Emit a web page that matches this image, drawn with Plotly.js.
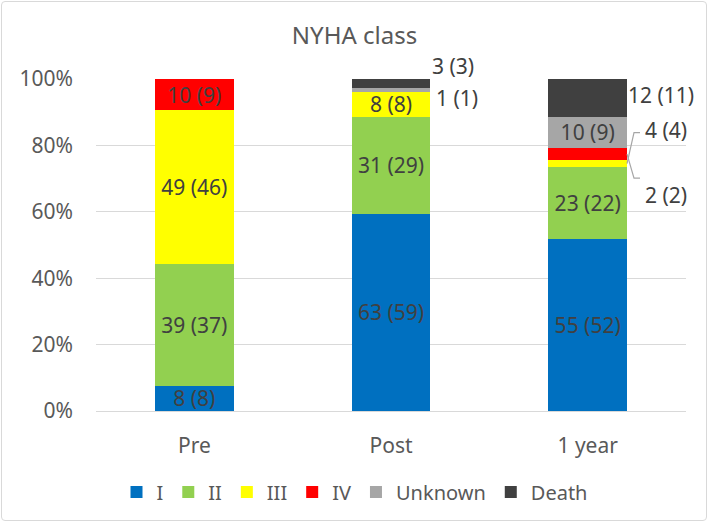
<!DOCTYPE html>
<html>
<head>
<meta charset="utf-8">
<script src="https://cdn.plot.ly/plotly-3.0.1.min.js"></script>
<style>
  html, body { margin: 0; padding: 0; background: #fff; }
  #wrap { position: relative; width: 709px; height: 526px; }
  #chart { position: absolute; left: 0; top: 0; width: 709px; height: 526px; }
  #frame { position: absolute; left: 1px; top: 1px; width: 704px; height: 518px;
           border: 1px solid #D9D9D9; border-radius: 4px; pointer-events: none; }
</style>
</head>
<body>
<div id="wrap"><div id="chart"></div><div id="frame"></div></div>
<script>
// ---- data ----
const categories = ['Pre', 'Post', '1 year'];
const seriesNames = ['I', 'II', 'III', 'IV', 'Unknown', 'Death'];
const classI    = [8, 63, 55];
const classII   = [39, 31, 23];
const classIII  = [49, 8, 2];
const classIV   = [10, 0, 4];
const unknown   = [0, 1, 10];
const death     = [0, 3, 12];
const yTickVals   = [0, 20, 40, 60, 80, 100];
const yTickLabels = ['0%', '20%', '40%', '60%', '80%', '100%'];

// ---- style ----
const colors = ['#0070C0', '#92D050', '#FFFF00', '#FF0000', '#A6A6A6', '#404040'];
const series = [classI, classII, classIII, classIV, unknown, death];
const FONT = '"Noto Sans", "Open Sans", sans-serif';
const labelColor = '#404040';
const axisColor = '#595959';
const LBL = 21;

// labels drawn outside the bars: [series index, category index, xshift, yshift, xanchor, leader]
const outsideLabels = [
  [5, 1, 62, 18, 'center', false],
  [4, 1, 66, -8, 'center', false],
  [5, 2, 73, 3, 'center', false],
  [3, 2, 55, 24, 'left', true],
  [2, 2, 55, -31, 'left', true]
];

const totals = categories.map((_, c) => series.reduce((s, arr) => s + arr[c], 0));
const labelText = (s, c) => series[s][c] + ' (' + Math.round(series[s][c] / totals[c] * 100) + ')';
const isOutside = (s, c) => outsideLabels.some(o => o[0] === s && o[1] === c);

const traces = seriesNames.map((name, s) => ({
  type: 'bar',
  name: name,
  x: categories,
  y: series[s],
  marker: { color: colors[s], line: { width: 0 } },
  text: categories.map((_, c) => (series[s][c] > 0 && !isOutside(s, c)) ? labelText(s, c) : ''),
  textposition: 'inside',
  insidetextanchor: 'middle',
  constraintext: 'none',
  textfont: { family: FONT, size: LBL, color: labelColor },
  hoverinfo: 'name+y'
}));

// cumulative percent mid-point of a segment
function segMid(s, c) {
  let below = 0;
  for (let k = 0; k < s; k++) below += series[k][c];
  return (below + series[s][c] / 2) / totals[c] * 100;
}

const barHalf = 0.2;
const annotations = [];
const shapes = [];
outsideLabels.forEach(([s, c, xs, ys, xa, leader]) => {
  const ym = segMid(s, c);
  annotations.push({
    x: c, y: ym, xref: 'x', yref: 'y',
    text: labelText(s, c), showarrow: false,
    xanchor: xa, yanchor: 'middle', xshift: xs, yshift: ys,
    font: { family: FONT, size: LBL, color: labelColor }
  });
  if (leader) {
    const dy = -ys; // pixel paths run downward
    shapes.push({
      type: 'path', xref: 'x', yref: 'y',
      xsizemode: 'pixel', ysizemode: 'pixel',
      xanchor: c + barHalf, yanchor: ym,
      path: 'M0,0 L7,' + dy + ' L13,' + dy,
      line: { color: '#A6A6A6', width: 1.2 }
    });
  }
});

const layout = {
  width: 709, height: 526,
  margin: { l: 96, r: 23, t: 79, b: 115 },
  paper_bgcolor: '#ffffff', plot_bgcolor: '#ffffff',
  barmode: 'stack', barnorm: 'percent', bargap: 0.6,
  title: { text: 'NYHA class', font: { family: FONT, size: 24, color: axisColor },
           x: 0.5, xref: 'container', xanchor: 'center', y: 1 - 36 / 526, yref: 'container', yanchor: 'middle' },
  xaxis: { type: 'category', range: [-0.5, 2.5], showgrid: false, zeroline: false,
           showline: true, linecolor: '#D9D9D9', linewidth: 1, ticks: '',
           tickfont: { family: FONT, size: LBL, color: axisColor }, ticklabelstandoff: 16 },
  yaxis: { range: [0, 100], tickvals: yTickVals, ticktext: yTickLabels,
           showgrid: true, gridcolor: '#D9D9D9', gridwidth: 1, zeroline: false, showline: false,
           ticks: '', tickfont: { family: FONT, size: LBL, color: axisColor }, ticklabelstandoff: 22 },
  showlegend: true,
  legend: { orientation: 'h', x: 0.5, xref: 'container', xanchor: 'center',
            y: 1 - 492 / 526, yref: 'container', yanchor: 'middle',
            font: { family: FONT, size: 20, color: axisColor }, itemwidth: 30, traceorder: 'normal' },
  annotations: annotations,
  shapes: shapes
};

Plotly.newPlot('chart', traces, layout, { displayModeBar: false, staticPlot: true });
</script>
</body>
</html>
